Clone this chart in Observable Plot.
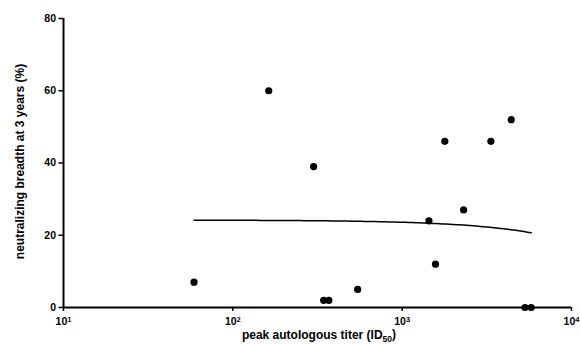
<!DOCTYPE html>
<html>
<head>
<meta charset="utf-8">
<script src="https://cdn.jsdelivr.net/npm/d3@7"></script>
<script src="https://cdn.jsdelivr.net/npm/@observablehq/plot@0.6"></script>
<style>
  html, body { margin: 0; padding: 0; background: #fff; }
  #chart svg { display: block; }
</style>
</head>
<body>
<div id="chart"></div>
<script>
// Peak autologous titer (ID50) per subject
const titer = [59, 163, 300, 344, 369, 546, 1439, 1574, 1786, 2307, 3342, 4403, 5311, 5780];
// Neutralizing breadth at 3 years (%)
const breadth = [7, 60, 39, 2, 2, 5, 24, 12, 46, 27, 46, 52, 0, 0];
// Axis ticks
const xTicks = [10, 100, 1000, 10000];
const yTicks = [0, 20, 40, 60, 80];

const points = titer.map((t, i) => ({titer: t, breadth: breadth[i]}));

// Least-squares straight line fit of breadth on titer (linear in titer),
// drawn over the observed titer range, which bends on the log axis
const mx = d3.mean(titer), my = d3.mean(breadth);
const slope = d3.sum(titer, (t, i) => (t - mx) * (breadth[i] - my)) /
              d3.sum(titer, t => (t - mx) ** 2);
const intercept = my - slope * mx;
const [tMin, tMax] = d3.extent(titer);
const fit = d3.ticks(Math.log10(tMin), Math.log10(tMax), 80)
  .concat([Math.log10(tMin), Math.log10(tMax)])
  .sort(d3.ascending)
  .map(l => 10 ** l)
  .map(t => ({titer: t, breadth: intercept + slope * t}));

const font = "'Liberation Sans', Arial, sans-serif";

const chart = Plot.plot({
  width: 580,
  height: 344,
  marginLeft: 63,
  marginRight: 9,
  marginTop: 18,
  marginBottom: 37,
  style: {fontFamily: font, fontSize: "10.5px", fontWeight: "bold", color: "#000", background: "#fff"},
  x: {type: "log", domain: [10, 10000]},
  y: {domain: [0, 80]},
  marks: [
    Plot.axisY({ticks: yTicks, tickSize: 4.5, tickPadding: 3, strokeWidth: 1.5, label: null}),
    Plot.axisX({ticks: xTicks, tickSize: 4, tickPadding: 6, strokeWidth: 1.5, label: null, tickFormat: () => "10"}),
    Plot.ruleX([10], {stroke: "#000", strokeWidth: 2}),
    Plot.ruleY([0], {stroke: "#000", strokeWidth: 2}),
    Plot.line(fit, {x: "titer", y: "breadth", stroke: "#000", strokeWidth: 1.5}),
    Plot.dot(points, {x: "titer", y: "breadth", r: 3.6, fill: "#000", stroke: "none"})
  ]
});

document.getElementById("chart").appendChild(chart);

// Power-of-ten exponents on the x tick labels
const svg = d3.select(chart);
svg.selectAll("g[aria-label='x-axis tick label'] text").each(function(d, i) {
  const exp = Math.round(Math.log10(xTicks[i]));
  d3.select(this).append("tspan")
    .attr("dy", "-0.4em")
    .attr("font-size", "7.5px")
    .text(exp);
});

// Axis titles
svg.append("text")
  .attr("x", 319)
  .attr("y", 339)
  .attr("text-anchor", "middle")
  .attr("font-family", font)
  .attr("font-weight", "bold")
  .attr("font-size", "12px")
  .attr("fill", "#000")
  .call(t => {
    t.append("tspan").text("peak autologous titer (ID");
    t.append("tspan").attr("dy", "0.3em").attr("font-size", "8.5px").text("50");
    t.append("tspan").attr("dy", "-0.3em").text(")");
  });

svg.append("text")
  .attr("transform", "translate(24,161.5) rotate(-90)")
  .attr("text-anchor", "middle")
  .attr("font-family", font)
  .attr("font-weight", "bold")
  .attr("font-size", "12px")
  .attr("fill", "#000")
  .text("neutralizing breadth at 3 years (%)");
</script>
</body>
</html>
